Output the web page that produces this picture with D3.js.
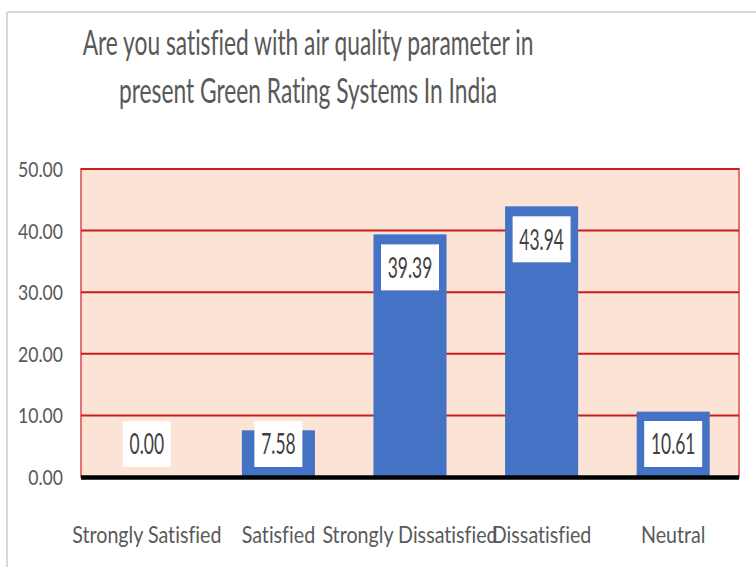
<!DOCTYPE html>
<html>
<head>
<meta charset="utf-8">
<script src="https://cdn.jsdelivr.net/npm/d3@7"></script>
<style>
  body { margin: 0; background: #fff; }
  text { font-family: Lato, "Open Sans", sans-serif; fill: #595959; font-variant-ligatures: none; }
</style>
</head>
<body>
<div id="chart"></div>
<script>
// data
const categories = ['Strongly Satisfied', 'Satisfied', 'Strongly Dissatisfied', 'Dissatisfied', 'Neutral'];
const values = [0.00, 7.58, 39.39, 43.94, 10.61];
const yTicks = [0, 10, 20, 30, 40, 50];
const titleLines = ['Are you satisfied with air quality parameter in', 'present Green Rating Systems In India'];

const width = 756;
const height = 567;
const marginTop = 169;
const marginBottom = 90;
const marginLeft = 81;
const marginRight = 17;

const $svg = d3.select('#chart')
  .append('svg')
  .attr('width', width)
  .attr('height', height);

// outer chart frame (only top + left edges visible in the original)
$svg.append('line')
  .attr('x1', 7).attr('x2', width).attr('y1', 12).attr('y2', 12)
  .attr('stroke', '#d9d9d9').attr('stroke-width', 2);
$svg.append('line')
  .attr('x1', 7).attr('x2', 7).attr('y1', 12).attr('y2', height)
  .attr('stroke', '#d9d9d9').attr('stroke-width', 2);

const scaleX = d3.scaleBand()
  .domain(categories)
  .range([marginLeft, width - marginRight])
  .paddingInner(0.445)
  .paddingOuter(0.2225);

const scaleY = d3.scaleLinear()
  .domain([0, 50])
  .range([height - marginBottom, marginTop]);

// squeezed text helper -- the original font is narrow and tall
function squeezed(sel, sx) {
  return sel.attr('transform', d => `translate(${d.x},${d.y}) scale(${sx},1)`);
}

// plot area
$svg.append('rect')
  .attr('x', marginLeft)
  .attr('y', scaleY(50))
  .attr('width', width - marginRight - marginLeft)
  .attr('height', scaleY(0) - scaleY(50))
  .attr('fill', '#fbe3d6')
  .attr('stroke', '#e57373')
  .attr('stroke-width', 2);

// gridlines
$svg.append('g')
  .selectAll('line')
  .data(yTicks.filter(d => d > 0))
  .join('line')
  .attr('x1', marginLeft)
  .attr('x2', width - marginRight)
  .attr('y1', d => scaleY(d))
  .attr('y2', d => scaleY(d))
  .attr('stroke', '#c81e1e')
  .attr('stroke-width', 2);

// y tick labels
$svg.append('g')
  .selectAll('text')
  .data(yTicks.map(v => ({ v, x: 63, y: scaleY(v) })))
  .join('text')
  .call(squeezed, 0.8)
  .attr('text-anchor', 'end')
  .attr('dy', '0.36em')
  .style('font-size', '22px')
  .text(d => d.v.toFixed(2));

// bars
$svg.append('g')
  .selectAll('rect')
  .data(values)
  .join('rect')
  .attr('x', (d, i) => scaleX(categories[i]))
  .attr('width', scaleX.bandwidth())
  .attr('y', d => scaleY(d))
  .attr('height', d => scaleY(0) - scaleY(d))
  .attr('fill', '#4472c4');

// baseline
$svg.append('line')
  .attr('x1', marginLeft)
  .attr('x2', width - marginRight)
  .attr('y1', scaleY(0) + 0.5)
  .attr('y2', scaleY(0) + 0.5)
  .attr('stroke', '#000')
  .attr('stroke-width', 4.5);

// value labels in white boxes, inside end of the bar
const boxH = 46;
const labels = $svg.append('g')
  .selectAll('g')
  .data(values.map((v, i) => ({
    v,
    cx: scaleX(categories[i]) + scaleX.bandwidth() / 2,
    top: Math.min(scaleY(v) + 10, scaleY(0) - 10 - boxH)
  })))
  .join('g');

labels.append('rect')
  .attr('x', d => d.cx - (d.v >= 10 ? 29 : 24))
  .attr('y', d => d.top)
  .attr('width', d => (d.v >= 10 ? 58 : 48))
  .attr('height', boxH)
  .attr('fill', '#fff');

labels.append('text')
  .datum(d => ({ v: d.v, x: d.cx, y: d.top + boxH / 2 }))
  .call(squeezed, 0.6)
  .attr('text-anchor', 'middle')
  .attr('dy', '0.36em')
  .style('font-size', '29px')
  .style('fill', '#404040')
  .text(d => d.v.toFixed(2));

// category labels
$svg.append('g')
  .selectAll('text')
  .data(categories.map(c => ({ c, x: scaleX(c) + scaleX.bandwidth() / 2, y: 543 })))
  .join('text')
  .call(squeezed, 0.82)
  .attr('text-anchor', 'middle')
  .style('font-size', '24px')
  .text(d => d.c);

// title
$svg.append('g')
  .selectAll('text')
  .data(titleLines.map((t, i) => ({ t, x: 308, y: 55 + i * 48 })))
  .join('text')
  .call(squeezed, 0.67)
  .attr('text-anchor', 'middle')
  .style('font-size', '34px')
  .text(d => d.t);
</script>
</body>
</html>
